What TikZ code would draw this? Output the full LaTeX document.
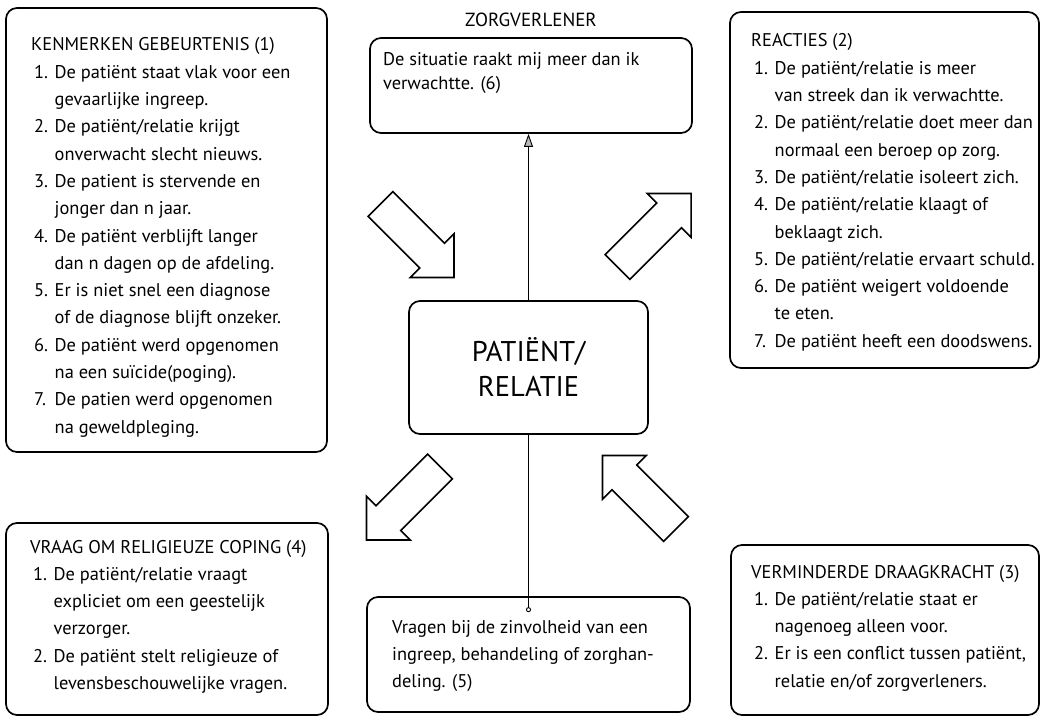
\documentclass[tikz,border=0pt]{standalone}
\usepackage{fontspec}
\setmainfont{PT Sans}
\usetikzlibrary{arrows.meta,calc}
\newcommand{\num}[1]{\makebox[20.5pt][l]{#1}}
\newcommand{\cont}{\hspace*{20.5pt}}
\newcommand{\ttl}[1]{\hspace*{-3pt}#1}
\newcommand{\blockarrow}[3]{%
  \begin{scope}[shift={(#1,#2)},rotate=#3]
    \draw[blk] (0,-17.5) -- (73,-17.5) -- (73,-31) -- (104,0) -- (73,31) -- (73,17.5) -- (0,17.5) -- cycle;
  \end{scope}}
\begin{document}
\begin{tikzpicture}[x=1pt,y=-1pt,
  box/.style={draw, line width=1.7pt, rounded corners=11pt, inner sep=0pt},
  txt/.style={anchor=base west, inner sep=0pt, font=\fontsize{18.4}{27.3}\selectfont},
  blk/.style={draw, line width=1.6pt, line join=miter},
  conn/.style={line width=0.9pt}]
\useasboundingbox[fill=white] (0,0) rectangle (1043,719);

% boxes
\node[box, minimum width=321pt, minimum height=444pt] (A) at (166.5,230) {};
\node[box, minimum width=309pt, minimum height=356pt] (B) at (884.5,190) {};
\node[box, minimum width=308pt, minimum height=170pt] (C) at (885,630) {};
\node[box, minimum width=322pt, minimum height=192pt] (D) at (167,619) {};
\node[box, minimum width=323pt, minimum height=115pt] (E) at (528.5,654.5) {};
\node[box, minimum width=322pt, minimum height=95pt] (F) at (531,85.5) {};
\node[box, minimum width=239pt, minimum height=133pt, align=center,
      font=\fontsize{28.5}{35}\selectfont] (P) at (528.5,367.5) {PATIËNT/\\RELATIE};

\node[inner sep=0pt, font=\fontsize{19}{22}\selectfont] (Z) at (531,20) {ZORGVERLENER};

% texts
\node[txt] (tA) at (34,51) {\begin{tabular}[t]{@{}l@{}}
\ttl{KENMERKEN GEBEURTENIS (1)}\\
\num{1.}De patiënt staat vlak voor een\\
\cont gevaarlijke ingreep.\\
\num{2.}De patiënt/relatie krijgt\\
\cont onverwacht slecht nieuws.\\
\num{3.}De patient is stervende en\\
\cont jonger dan n jaar.\\
\num{4.}De patiënt verblijft langer\\
\cont dan n dagen op de afdeling.\\
\num{5.}Er is niet snel een diagnose\\
\cont of de diagnose blijft onzeker.\\
\num{6.}De patiënt werd opgenomen\\
\cont na een suïcide(poging).\\
\num{7.}De patien werd opgenomen\\
\cont na geweldpleging.
\end{tabular}};

\node[txt] (tB) at (754,47) {\begin{tabular}[t]{@{}l@{}}
\ttl{REACTIES (2)}\\
\num{1.}De patiënt/relatie is meer\\
\cont van streek dan ik verwachtte.\\
\num{2.}De patiënt/relatie doet meer dan\\
\cont normaal een beroep op zorg.\\
\num{3.}De patiënt/relatie isoleert zich.\\
\num{4.}De patiënt/relatie klaagt of\\
\cont beklaagt zich.\\
\num{5.}De patiënt/relatie ervaart schuld.\\
\num{6.}De patiënt weigert voldoende\\
\cont te eten.\\
\num{7.}De patiënt heeft een doodswens.
\end{tabular}};

\node[txt] (tC) at (754,578) {\begin{tabular}[t]{@{}l@{}}
\ttl{VERMINDERDE DRAAGKRACHT (3)}\\
\num{1.}De patiënt/relatie staat er\\
\cont nagenoeg alleen voor.\\
\num{2.}Er is een conflict tussen patiënt,\\
\cont relatie en/of zorgverleners.
\end{tabular}};

\node[txt] (tD) at (33,553) {\begin{tabular}[t]{@{}l@{}}
\ttl{VRAAG OM RELIGIEUZE COPING (4)}\\
\num{1.}De patiënt/relatie vraagt\\
\cont expliciet om een geestelijk\\
\cont verzorger.\\
\num{2.}De patiënt stelt religieuze of\\
\cont levensbeschouwelijke vragen.
\end{tabular}};

\node[txt] (tE) at (392,633) {\begin{tabular}[t]{@{}l@{}}
Vragen bij de zinvolheid van een\\
ingreep, behandeling of zorghan-\\
deling. (5)
\end{tabular}};

\node[txt, font=\fontsize{18.4}{24}\selectfont] (tF) at (383,66) {\begin{tabular}[t]{@{}l@{}}
De situatie raakt mij meer dan ik\\
verwachtte. (6)
\end{tabular}};

% connectors
\draw[conn, -{Triangle[length=13pt,width=9pt,fill=gray!55]}] (P.north) -- (P.north |- F.south);
\coordinate (Eend) at ([yshift=-16pt]E.north);
\draw[conn, -{Circle[open,length=5pt]}] (P.south) -- (Eend);

% block arrows
\blockarrow{380.5}{204}{-45}
\blockarrow{617.5}{267}{45}
\blockarrow{440}{466.5}{-135}
\blockarrow{676}{529}{135}
\end{tikzpicture}
\end{document}
